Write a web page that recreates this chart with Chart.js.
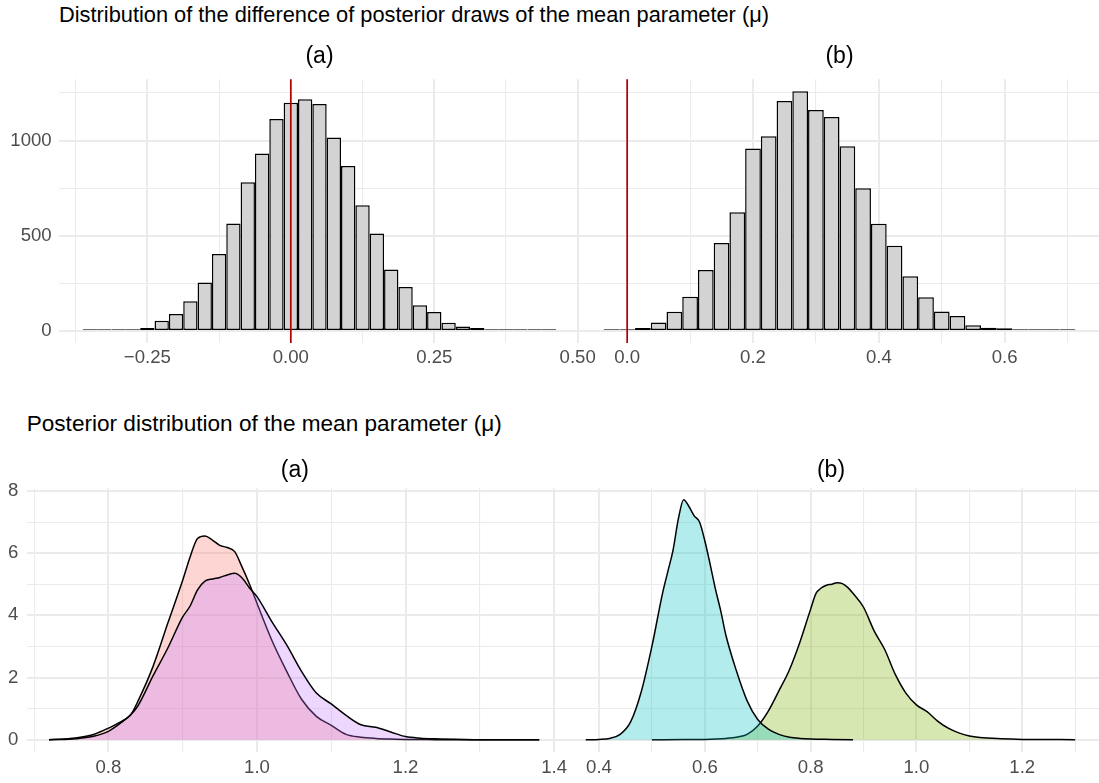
<!DOCTYPE html>
<html>
<head>
<meta charset="utf-8">
<script src="https://cdn.jsdelivr.net/npm/chart.js@4"></script>
<style>
html,body{margin:0;padding:0;background:#ffffff;}
#wrap{position:relative;width:1099px;height:783px;overflow:hidden;font-family:'Liberation Sans',Arial,sans-serif;}
canvas{position:absolute;}
.title{position:absolute;color:#000;white-space:nowrap;}
</style>
</head>
<body>
<div id="wrap">
  <div class="title" style="left:59px;top:4.2px;font-size:21.8px;line-height:21.8px">Distribution of the difference of posterior draws of the mean parameter (μ)</div>
  <div class="title" style="left:26.7px;top:412.6px;font-size:22.6px;line-height:22.6px">Posterior distribution of the mean parameter (μ)</div>
  <canvas id="c1" width="620" height="380" style="left:0px;top:0px"></canvas>
  <canvas id="c2" width="519" height="380" style="left:580px;top:0px"></canvas>
  <canvas id="c3" width="600" height="383" style="left:0px;top:400px"></canvas>
  <canvas id="c4" width="536" height="383" style="left:563px;top:400px"></canvas>
</div>
<script>
// ---------------- data ----------------
const panelTitles = ['(a)', '(b)'];
const refLineX = 0;

// Top row: histograms of differences (bin centres, counts)
const diffBinsA = [-0.35,-0.325,-0.3,-0.275,-0.25,-0.225,-0.2,-0.175,-0.15,-0.125,-0.1,-0.075,-0.05,-0.025,0,0.025,0.05,0.075,0.1,0.125,0.15,0.175,0.2,0.225,0.25,0.275,0.3,0.325,0.35,0.375,0.4,0.425,0.45];
const diffCountsA = [3,4,4,8,16,54,89,156,255,404,565,781,932,1114,1199,1217,1192,1016,867,661,512,323,231,135,100,44,24,16,9,5,2,1,2];

const diffBinsB = [-0.025,0,0.025,0.05,0.075,0.1,0.125,0.15,0.175,0.2,0.225,0.25,0.275,0.3,0.325,0.35,0.375,0.4,0.425,0.45,0.475,0.5,0.525,0.55,0.575,0.6,0.625,0.65,0.675,0.7];
const diffCountsB = [2,4,16,45,101,180,320,462,624,958,1023,1208,1259,1161,1124,970,750,563,448,287,177,103,79,30,17,14,9,3,2,2];

// Bottom row: posterior densities of mu
const muGridA = [0.72,0.74,0.76,0.78,0.80,0.82,0.83,0.84,0.86,0.88,0.90,0.91,0.92,0.93,0.94,0.95,0.96,0.97,0.98,0.99,1.00,1.02,1.04,1.06,1.08,1.10,1.12,1.14,1.16,1.18,1.20,1.22,1.24,1.28,1.32,1.38];
const densA1 = [0,0.02,0.07,0.17,0.37,0.62,0.8,1.25,2.35,3.75,5.13,5.88,6.47,6.55,6.42,6.25,6.18,6.05,5.55,5.0,4.39,3.2,2.2,1.3,0.75,0.46,0.17,0.08,0.04,0.02,0.01,0.01,0,0,0,0];
const densA2 = [0,0.01,0.04,0.11,0.27,0.6,0.8,1.1,2.05,2.95,3.95,4.3,4.82,5.1,5.17,5.22,5.3,5.35,5.2,4.88,4.6,3.8,3.05,2.2,1.5,1.15,0.78,0.48,0.4,0.25,0.1,0.05,0.03,0.01,0,0];

const muGridB1 = [0.375,0.40,0.42,0.44,0.46,0.48,0.50,0.52,0.53,0.54,0.55,0.56,0.57,0.58,0.59,0.60,0.61,0.62,0.63,0.64,0.66,0.68,0.70,0.72,0.74,0.76,0.78,0.80,0.84,0.88];
const densB1 = [0,0.01,0.04,0.17,0.58,1.55,3.0,4.7,5.4,6.1,7.1,7.72,7.5,7.2,7.0,6.4,5.65,4.85,4.15,3.35,2.2,1.25,0.65,0.34,0.17,0.08,0.04,0.02,0.01,0];

const muGridB2 = [0.50,0.56,0.60,0.62,0.64,0.66,0.68,0.70,0.72,0.74,0.76,0.78,0.80,0.81,0.82,0.83,0.84,0.85,0.86,0.87,0.88,0.90,0.92,0.94,0.96,0.98,1.00,1.02,1.04,1.06,1.08,1.10,1.12,1.16,1.20,1.25,1.30];
const densB2 = [0,0.005,0.01,0.02,0.04,0.08,0.17,0.44,0.92,1.57,2.25,3.15,4.2,4.7,4.88,4.97,5.0,5.05,5.02,4.9,4.71,4.26,3.5,2.9,2.1,1.5,1.12,0.9,0.6,0.37,0.22,0.12,0.07,0.03,0.01,0.005,0];

// ---------------- styling ----------------
const FONT = "'Liberation Sans', Arial, sans-serif";
Chart.defaults.font.family = FONT;
Chart.defaults.animation = false;

const GRID = '#EBEBEB';
const TICK_COLOR = '#4D4D4D';
const TICK_SIZE = 18.6;

function isMult(v, step) {
  const r = v / step;
  return Math.abs(r - Math.round(r)) < 1e-6;
}
function fmt(v, dec) {
  return v.toFixed(dec).replace('-', '\u2212');
}

const refLinePlugin = {
  id: 'refLine',
  afterDatasetsDraw(chart, args, opts) {
    if (opts.value === undefined || opts.value === null) return;
    const {ctx, chartArea} = chart;
    const x = chart.scales.x.getPixelForValue(opts.value);
    ctx.save();
    ctx.strokeStyle = opts.color;
    ctx.lineWidth = opts.width;
    ctx.beginPath();
    ctx.moveTo(x, chartArea.top);
    ctx.lineTo(x, chartArea.bottom);
    ctx.stroke();
    ctx.restore();
  }
};

function axis(cfg) {
  return {
    type: 'linear',
    min: cfg.min, max: cfg.max,
    offset: false,
    border: {display: false},
    grid: {
      color: GRID,
      offset: false,
      drawTicks: false,
      lineWidth: (c) => (c.tick && isMult(c.tick.value, cfg.label)) ? 2 : 1.1
    },
    ticks: {
      stepSize: cfg.step,
      includeBounds: false,
      autoSkip: false,
      maxRotation: 0,
      minRotation: 0,
      display: cfg.show !== false,
      padding: cfg.pad,
      color: TICK_COLOR,
      font: {size: TICK_SIZE, family: FONT},
      callback: (v) => isMult(v, cfg.label) ? fmt(v, cfg.dec) : ''
    },
    afterFit: (s) => {
      if (cfg.width !== undefined) s.width = cfg.width;
      if (cfg.height !== undefined) s.height = cfg.height;
    }
  };
}

function baseOptions(title, titlePad, layoutPad, xAxis, yAxis) {
  return {
    responsive: false,
    animation: false,
    layout: {padding: layoutPad},
    plugins: {
      legend: {display: false},
      tooltip: {enabled: false},
      title: {
        display: true,
        text: title,
        fullSize: false,
        color: '#000000',
        font: {size: 23, family: FONT, weight: 'normal', lineHeight: 1.2},
        padding: titlePad
      }
    },
    scales: {x: xAxis, y: yAxis}
  };
}

function histChart(id, bins, counts, title, xAxis, yAxis, layoutPad) {
  const opts = baseOptions(title, {top: 43.3, bottom: 8.4}, layoutPad, xAxis, yAxis);
  opts.plugins.refLine = {value: refLineX, color: '#B00000', width: 1.7};
  return new Chart(document.getElementById(id), {
    type: 'bar',
    data: {
      datasets: [{
        data: bins.map((b, i) => ({x: b, y: counts[i]})),
        backgroundColor: '#D3D3D3',
        borderColor: '#000000',
        borderWidth: 1.5,
        borderSkipped: false,
        inflateAmount: 0,
        minBarLength: 1.8,
        barPercentage: 1,
        categoryPercentage: 1
      }]
    },
    options: opts,
    plugins: [refLinePlugin]
  });
}

function densChart(id, series, title, xAxis, yAxis, layoutPad) {
  const opts = baseOptions(title, {top: 57.2, bottom: 3.5}, layoutPad, xAxis, yAxis);
  return new Chart(document.getElementById(id), {
    type: 'line',
    data: {
      datasets: series.map(s => ({
        data: s.x.map((v, i) => ({x: v, y: s.y[i]})),
        backgroundColor: s.fill,
        borderColor: '#000000',
        borderWidth: 1.5,
        fill: 'origin',
        pointRadius: 0,
        cubicInterpolationMode: 'monotone',
        order: s.order
      }))
    },
    options: opts
  });
}

// ---------------- top row ----------------
const yTop = (show, width) => axis({min: -63, max: 1322, step: 250, label: 500, dec: 0, show, width, pad: 7.3});

histChart('c1', diffBinsA, diffCountsA, panelTitles[0],
  axis({min: -0.404, max: 0.504, step: 0.125, label: 0.25, dec: 2, height: 37, pad: 4.1}),
  yTop(true, 59),
  {left: 0, right: 40, top: 0, bottom: 0});

histChart('c2', diffBinsB, diffCountsB, panelTitles[1],
  axis({min: -0.075, max: 0.75, step: 0.1, label: 0.2, dec: 1, height: 37, pad: 4.1}),
  yTop(false, 0),
  {left: 0, right: 0, top: 0, bottom: 0});

// ---------------- bottom row ----------------
const yBot = (show, width) => axis({min: -0.386, max: 8.086, step: 1, label: 2, dec: 0, show, width, pad: 8.4});

densChart('c3', [
    {x: muGridA, y: densA1, fill: 'rgba(248,118,109,0.3)', order: 2},
    {x: muGridA, y: densA2, fill: 'rgba(199,124,255,0.3)', order: 1}
  ], panelTitles[0],
  axis({min: 0.690, max: 1.412, step: 0.1, label: 0.2, dec: 1, height: 31.3, pad: 5.4}),
  yBot(true, 26.7),
  {left: 0, right: 37, top: 0, bottom: 0});

densChart('c4', [
    {x: muGridB2, y: densB2, fill: 'rgba(124,174,0,0.3)', order: 2},
    {x: muGridB1, y: densB1, fill: 'rgba(0,191,196,0.3)', order: 1}
  ], panelTitles[1],
  axis({min: 0.332, max: 1.345, step: 0.1, label: 0.2, dec: 1, height: 31.3, pad: 5.4}),
  yBot(false, 0),
  {left: 0, right: 0, top: 0, bottom: 0});
</script>
</body>
</html>
